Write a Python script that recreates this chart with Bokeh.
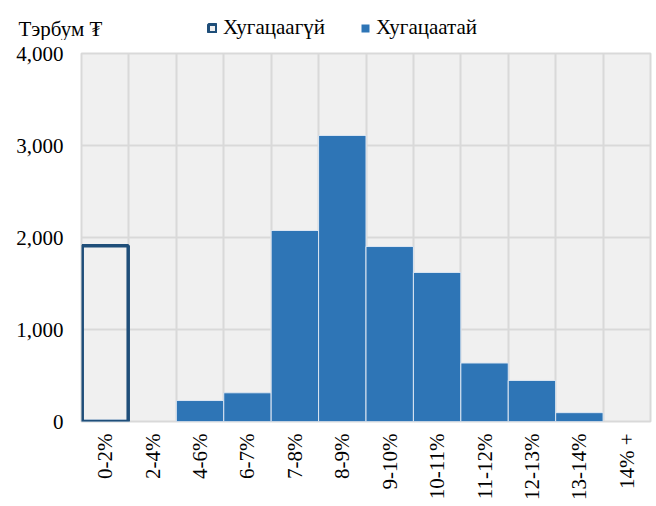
from bokeh.plotting import figure
from bokeh.layouts import column
from bokeh.models import (Range1d, FixedTicker, NumeralTickFormatter, Legend, LegendItem,
                          ColumnDataSource, Label)
from bokeh.embed import file_html
from bokeh.resources import INLINE
import math

categories = ["0-2%", "2-4%", "4-6%", "6-7%", "7-8%", "8-9%", "9-10%", "10-11%",
              "11-12%", "12-13%", "13-14%", "14% +"]
khugatsaagui = [1910, 0, 0, 0, 0, 0, 0, 0, 0, 0, 0, 0]
khugatsaatai = [20, 0, 228, 312, 2076, 3109, 1902, 1620, 636, 446, 96, 0]
y_ticks = [0, 1000, 2000, 3000, 4000]
series_names = ["Хугацаагүй", "Хугацаатай"]
unit_text = "Тэрбум ₮"

FONT = "Liberation Serif"
FS = "21px"
DARK = "#1f4e79"
BLUE = "#2e75b6"
centers = [i + 0.5 for i in range(len(categories))]


def nonzero(vals):
    xs = [c for c, v in zip(centers, vals) if v > 0]
    ts = [v for v in vals if v > 0]
    return ColumnDataSource(dict(x=xs, top=ts))


src_a = nonzero(khugatsaagui)
src_b = nonzero(khugatsaatai)

# ---- header: unit label + legend ----
head = figure(width=656, height=40, output_backend="svg", toolbar_location=None,
              x_range=Range1d(0, 1), y_range=Range1d(0, 1),
              x_axis_type=None, y_axis_type=None,
              min_border_left=0, min_border_right=0, min_border_top=0, min_border_bottom=0)
head.frame_align = False
head.outline_line_color = None
head.background_fill_color = "white"
head.border_fill_color = "white"
head.grid.visible = False
h_a = head.vbar(x="x", top="top", width=1, source=src_a,
                fill_color="#f0f0f0", line_color=DARK, line_width=3, visible=False)
h_b = head.vbar(x="x", top="top", width=1, source=src_b,
                fill_color=BLUE, line_color=None, visible=False)
leg = Legend(items=[LegendItem(label=series_names[0], renderers=[h_a]),
                    LegendItem(label=series_names[1], renderers=[h_b])],
             orientation="horizontal", location=(207, 0),
             label_text_font=FONT, label_text_font_size=FS, label_text_color="black",
             glyph_width=10, glyph_height=10, label_standoff=6, spacing=35,
             padding=0, margin=0, border_line_color=None,
             background_fill_alpha=0, label_height=20)
head.add_layout(leg, "center")
head.add_layout(Label(x=18, y=12, x_units="screen", y_units="screen", text=unit_text,
                      text_font=FONT, text_font_size=FS, text_baseline="middle",
                      text_color="black"))

# ---- main chart ----
p = figure(width=656, height=466, output_backend="svg", toolbar_location=None,
           x_range=Range1d(0, len(categories)), y_range=Range1d(0, 4000),
           min_border_left=81, min_border_right=6, min_border_top=13, min_border_bottom=85)
p.frame_align = False
p.background_fill_color = "#f0f0f0"
p.border_fill_color = "white"
p.outline_line_color = "#d9d9d9"
p.outline_line_width = 2

p.vbar(x="x", top="top", width=1.0, source=src_b, fill_color=BLUE,
       line_color="#dce6f2", line_width=1)
p.vbar(x="x", top="top", width=0.97, source=src_a, fill_color=None,
       line_color=DARK, line_width=3.5)

for ax in (p.xaxis, p.yaxis):
    ax.axis_line_color = None
    ax.major_tick_line_color = None
    ax.minor_tick_line_color = None
    ax.major_tick_out = 0
    ax.major_tick_in = 0
    ax.minor_tick_out = 0
    ax.major_label_text_font = FONT
    ax.major_label_text_font_size = FS
    ax.major_label_text_color = "black"

p.xaxis.ticker = FixedTicker(ticks=centers)
p.xaxis.major_label_overrides = {c: lab for c, lab in zip(centers, categories)}
p.xaxis.major_label_orientation = math.pi / 2
p.xaxis.major_label_standoff = 12

p.yaxis.ticker = FixedTicker(ticks=y_ticks)
p.yaxis.formatter = NumeralTickFormatter(format="0,0")
p.yaxis.major_label_standoff = 18

p.xgrid.ticker = FixedTicker(ticks=list(range(1, len(categories))))
p.xgrid.grid_line_color = "#d9d9d9"
p.xgrid.grid_line_width = 2
p.ygrid.ticker = FixedTicker(ticks=y_ticks)
p.ygrid.grid_line_color = "#d9d9d9"
p.ygrid.grid_line_width = 2

layout = column(head, p, spacing=0)
open("out.html", "w").write(file_html(layout, INLINE))
